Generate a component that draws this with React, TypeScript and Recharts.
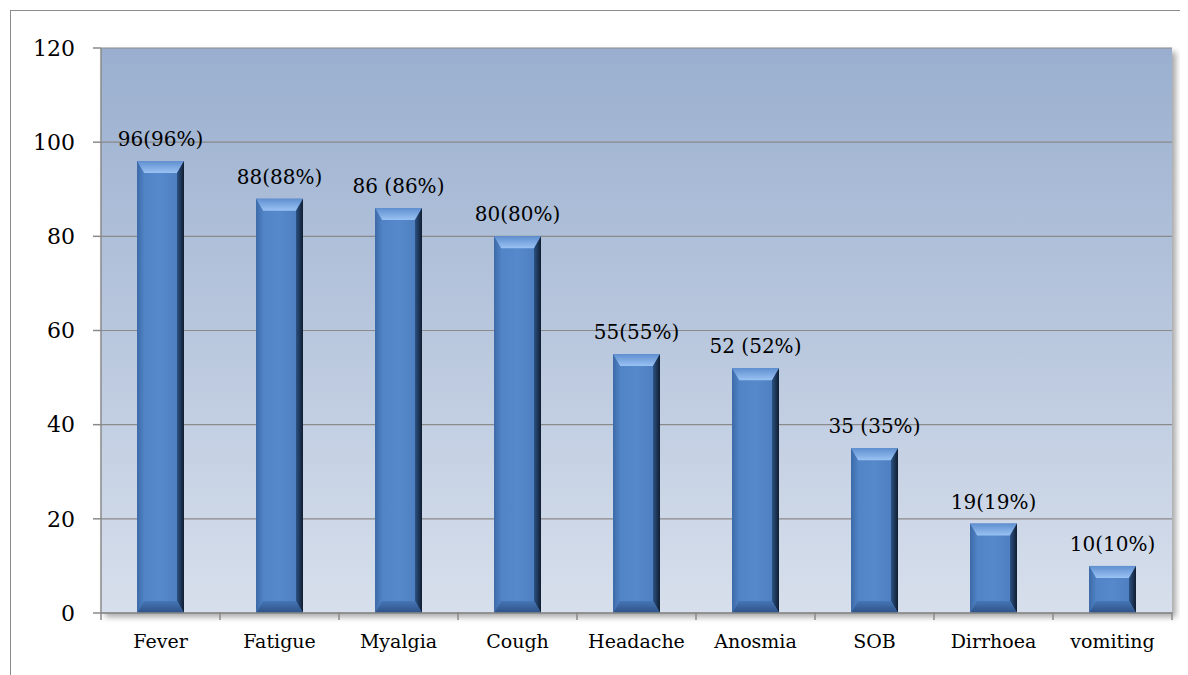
import React from 'react';
import { BarChart, Bar, XAxis, YAxis, CartesianGrid, LabelList } from 'recharts';

const symptoms = ['Fever', 'Fatigue', 'Myalgia', 'Cough', 'Headache', 'Anosmia', 'SOB', 'Dirrhoea', 'vomiting'];
const patients = [96, 88, 86, 80, 55, 52, 35, 19, 10];
const barLabels = ['96(96%)', '88(88%)', '86 (86%)', '80(80%)', '55(55%)', '52 (52%)', '35 (35%)', '19(19%)', '10(10%)'];
const yTicks = [0, 20, 40, 60, 80, 100, 120];

const data = symptoms.map((name, i) => ({ name, value: patients[i], label: barLabels[i] }));

const FONT = '"DejaVu Serif", "Liberation Serif", serif';
const BAND = 1071 / symptoms.length;

const BevelBar = (props: any) => {
  const { x, y, width, height } = props;
  if (!height || height <= 0) return null;
  const t = Math.min(12, height / 2);
  const s = Math.min(7, width / 3);
  const r = x + width;
  const b = y + height;
  return (
    <g>
      <rect x={x} y={y} width={width} height={height} fill="url(#barFace)" />
      <polygon points={`${x},${y} ${r},${y} ${r - s},${y + t} ${x + s},${y + t}`} fill="url(#bevelTop)" />
      <polygon points={`${x},${y} ${x + s},${y + t} ${x + s},${b - t} ${x},${b}`} fill="url(#bevelLeft)" />
      <polygon points={`${r},${y} ${r - s},${y + t} ${r - s},${b - t} ${r},${b}`} fill="url(#bevelRight)" />
      <polygon points={`${x},${b} ${x + s},${b - t} ${r - s},${b - t} ${r},${b}`} fill="url(#bevelBottom)" />
    </g>
  );
};

const TopLabel = (props: any) => {
  const { x, y, width, value } = props;
  return (
    <text x={x + width / 2} y={y - 15} textAnchor="middle" fill="#000" fontSize={20} fontFamily={FONT}>
      {value}
    </text>
  );
};

const XTick = (props: any) => {
  const { x, y, payload, index } = props;
  const last = index === symptoms.length - 1;
  return (
    <g>
      <line x1={x - BAND / 2} x2={x - BAND / 2} y1={y - 15} y2={y - 7} stroke="#8a8a8a" strokeWidth={1.5} />
      {last && <line x1={x + BAND / 2} x2={x + BAND / 2} y1={y - 15} y2={y - 7} stroke="#8a8a8a" strokeWidth={1.5} />}
      <text x={x} y={y + 21} textAnchor="middle" fill="#000" fontSize={19} fontFamily={FONT}>
        {payload.value}
      </text>
    </g>
  );
};

export default function App() {
  return (
    <div style={{ position: 'relative', width: 1180, height: 667, overflow: 'hidden', background: '#fff' }}>
      <div
        style={{
          position: 'absolute',
          left: 2,
          top: 2,
          width: 2000,
          height: 2000,
          borderLeft: '1.5px solid #8c8c8c',
          borderTop: '1.5px solid #8c8c8c',
        }}
      />
      <div
        style={{
          position: 'absolute',
          left: 93,
          top: 40,
          width: 1071,
          height: 565,
          boxShadow: '4px 4px 6px rgba(0,0,0,0.35)',
        }}
      />
      <div style={{ position: 'absolute', left: 0, top: 0 }}>
        <BarChart
          width={1180}
          height={667}
          data={data}
          margin={{ top: 40, right: 16, bottom: 0, left: 0 }}
          barSize={47}
        >
          <defs>
            <linearGradient id="plotBg" x1="0" y1="0" x2="0" y2="1">
              <stop offset="0%" stopColor="#9aafcf" />
              <stop offset="100%" stopColor="#d7dfec" />
            </linearGradient>
            <linearGradient id="barFace" x1="0" y1="0" x2="1" y2="0">
              <stop offset="0%" stopColor="#4f82c4" />
              <stop offset="50%" stopColor="#5689cb" />
              <stop offset="100%" stopColor="#4a7bbd" />
            </linearGradient>
            <linearGradient id="bevelTop" x1="0" y1="0" x2="0" y2="1">
              <stop offset="0%" stopColor="#5f8fd0" />
              <stop offset="100%" stopColor="#9ac2f3" />
            </linearGradient>
            <linearGradient id="bevelLeft" x1="0" y1="0" x2="1" y2="0">
              <stop offset="0%" stopColor="#3d6aa8" />
              <stop offset="100%" stopColor="#4f82c4" />
            </linearGradient>
            <linearGradient id="bevelRight" x1="0" y1="0" x2="1" y2="0">
              <stop offset="0%" stopColor="#2c5284" />
              <stop offset="100%" stopColor="#101d30" />
            </linearGradient>
            <linearGradient id="bevelBottom" x1="0" y1="0" x2="0" y2="1">
              <stop offset="0%" stopColor="#4675b5" />
              <stop offset="100%" stopColor="#2d5287" />
            </linearGradient>
          </defs>
          <CartesianGrid vertical={false} stroke="#8a8a8a" strokeWidth={1.2} fill="url(#plotBg)" fillOpacity={1} />
          <XAxis
            dataKey="name"
            height={62}
            axisLine={{ stroke: '#8a8a8a', strokeWidth: 1.5 }}
            tickLine={false}
            tick={<XTick />}
            tickMargin={8}
            interval={0}
          />
          <XAxis
            xAxisId="top"
            orientation="top"
            dataKey="name"
            height={0}
            tick={false}
            tickLine={false}
            axisLine={{ stroke: '#111', strokeWidth: 2 }}
          />
          <YAxis
            domain={[0, 120]}
            ticks={yTicks}
            width={93}
            axisLine={{ stroke: '#8a8a8a', strokeWidth: 1.5 }}
            tickLine={{ stroke: '#8a8a8a', strokeWidth: 1.5 }}
            tickSize={8}
            tickMargin={18}
            tick={{ fill: '#000', fontSize: 22, fontFamily: FONT }}
            interval={0}
          />
          <YAxis
            yAxisId="right"
            orientation="right"
            domain={[0, 120]}
            width={0}
            tick={false}
            tickLine={false}
            axisLine={{ stroke: '#111', strokeWidth: 2 }}
          />
          <Bar dataKey="value" shape={<BevelBar />} isAnimationActive={false}>
            <LabelList dataKey="label" content={<TopLabel />} />
          </Bar>
        </BarChart>
      </div>
    </div>
  );
}
